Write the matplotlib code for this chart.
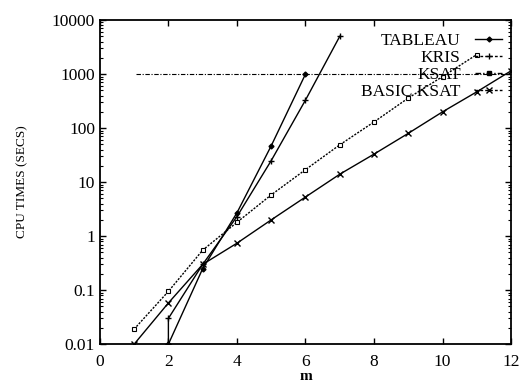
import matplotlib
matplotlib.use("Agg")
import matplotlib.pyplot as plt
from matplotlib.lines import Line2D
from matplotlib.ticker import FixedLocator, FuncFormatter, LogLocator, NullFormatter

plt.rcParams["font.family"] = "Liberation Serif"

# data
m_tableau = [2, 3, 4, 5, 6]
t_tableau = [0.01, 0.25, 2.7, 47, 1000]

m_kris = [2, 2, 3, 4, 5, 6, 7]
t_kris = [0.01, 0.03, 0.3, 2.3, 25, 330, 5000]

m_ksat = [1, 2, 3, 4, 5, 6, 7, 8, 9, 10, 11]
t_ksat = [0.019, 0.095, 0.55, 1.8, 5.8, 17, 49, 130, 360, 900, 2300]

m_basic = [1, 2, 3, 4, 5, 6, 7, 8, 9, 10, 11, 12]
t_basic = [0.01, 0.058, 0.3, 0.74, 2.0, 5.3, 14, 33, 80, 200, 470, 1150]

m_timeout = [1.05, 12]
t_timeout = [1000, 1000]

labels = ["TABLEAU", "KRIS", "KSAT", "BASIC KSAT"]
xticks = [0, 2, 4, 6, 8, 10, 12]
yticks = [0.01, 0.1, 1, 10, 100, 1000, 10000]

fig, ax = plt.subplots(figsize=(5.2, 3.85), dpi=100)
fig.subplots_adjust(left=0.192, right=0.983, top=0.948, bottom=0.106)

lw = 1.0
ax.plot(m_timeout, t_timeout, color="black", lw=0.8, ls=(0, (4, 1.5, 1, 1.5)))
ax.plot(m_tableau, t_tableau, color="black", lw=lw, marker="D", ms=2.5)
ax.plot(m_kris, t_kris, color="black", lw=lw, marker="+", ms=4.5)
ax.plot(m_ksat, t_ksat, color="black", lw=lw, ls=(0, (1.5, 1)), marker="s", ms=3.2,
        mfc="white", mew=0.8)
ax.plot(m_basic, t_basic, color="black", lw=lw, marker="x", ms=4)

ax.set_yscale("log")
ax.set_xlim(0, 12)
ax.set_ylim(0.01, 10000)
ax.xaxis.set_major_locator(FixedLocator(xticks))
ax.yaxis.set_major_locator(FixedLocator(yticks))
ax.yaxis.set_major_formatter(FuncFormatter(lambda v, p: "%g" % v))
ax.yaxis.set_minor_locator(LogLocator(base=10, subs=[2, 3, 4, 5, 6, 7, 8, 9]))
ax.yaxis.set_minor_formatter(NullFormatter())
ax.tick_params(which="both", direction="in", top=True, right=True, labelsize=12.5)
ax.tick_params(axis="x", pad=7)
ax.tick_params(which="major", length=4, width=1)
ax.tick_params(which="minor", length=2, width=0.8)
for s in ax.spines.values():
    s.set_linewidth(1.3)

ax.set_xlabel("m", fontsize=11, fontweight="bold")
ax.xaxis.set_label_coords(0.5, -0.099)
ax.xaxis.label.set_va("center")
ax.set_ylabel("CPU TIMES (SECS)", fontsize=9.5, labelpad=17)

handles = [
    Line2D([], [], color="black", lw=lw, marker="D", ms=2.5),
    Line2D([], [], color="black", lw=lw, ls=(0, (2, 1.5)), marker="+", ms=4.5),
    Line2D([], [], color="black", lw=lw, ls=(0, (4, 1.5, 1, 1.5)), marker="s", ms=3),
    Line2D([], [], color="black", lw=lw, ls=(0, (2, 1.5)), marker="x", ms=4.5),
]
ax.legend(handles, labels, loc="upper right", frameon=False, markerfirst=False,
          fontsize=12.5, handlelength=1.6, handletextpad=0.8, labelspacing=0.05,
          borderaxespad=0.1, bbox_to_anchor=(1.0, 0.987))

fig.savefig("out.png", dpi=100)
